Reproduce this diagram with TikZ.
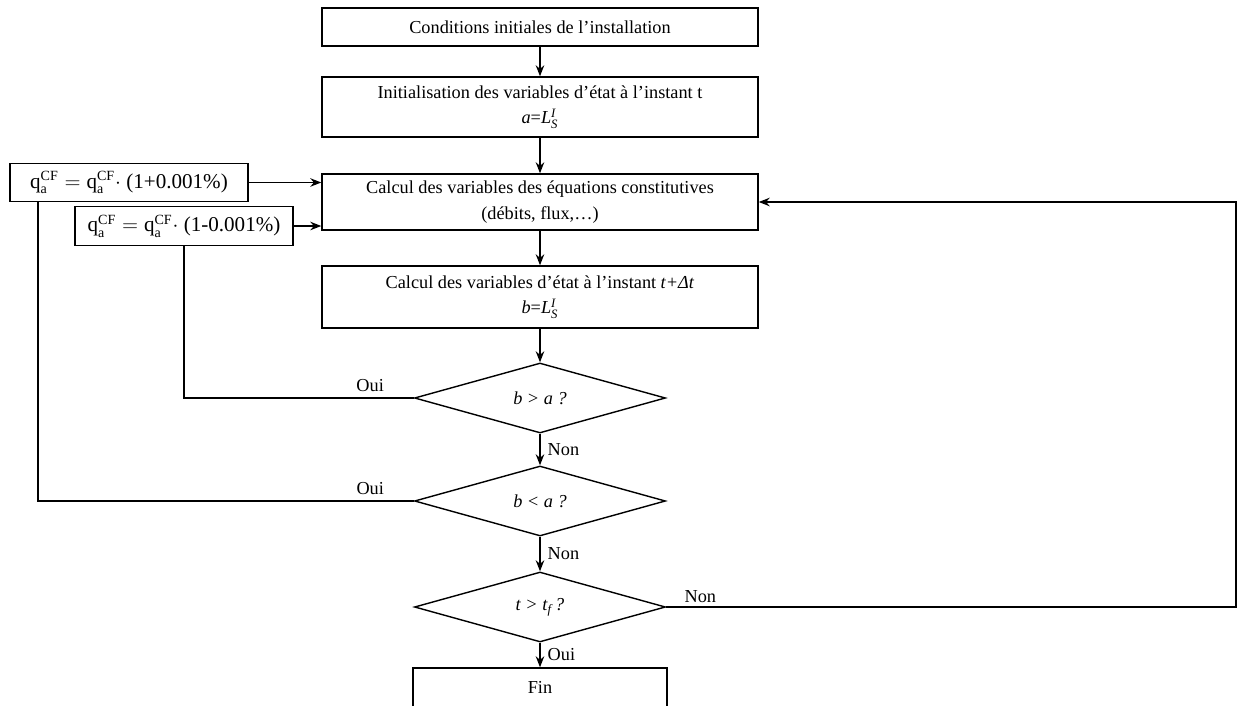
\documentclass[tikz,border=0pt]{standalone}
\usepackage{fontspec}
\usepackage{amsmath}
\setmainfont{Liberation Serif}
\usetikzlibrary{shapes.geometric,arrows.meta}

\newcommand{\qcf}{\text{q}_{\text{a}}^{\text{CF}}}
\newcommand{\Lsl}{\textit{L}$^{\textit{I}}_{\textit{S}}$}

\begin{document}
\begin{tikzpicture}[
  font=\fontsize{10.4}{14.5}\selectfont,
  box/.style={draw, line width=0.8pt, minimum width=8.72cm, align=center, inner sep=0pt},
  qbox/.style={draw, line width=0.8pt, minimum height=0.77cm, inner sep=0pt, font=\fontsize{12}{14}\selectfont},
  cond/.style={draw, line width=0.8pt, diamond, aspect=3.6, minimum width=5.02cm, minimum height=1.4cm, inner sep=0pt},
  lbl/.style={inner sep=1pt},
  arr/.style={line width=0.8pt, -{Stealth[length=2.2mm,width=1.7mm]}},
  lien/.style={line width=0.8pt}
]
  \useasboundingbox (0,0) rectangle (24.76,14.1);
  \clip (0,0) rectangle (24.76,14.1);

  % main column
  \node[box, minimum height=0.76cm] (init) at (10.8,13.56) {Conditions initiales de l’installation};
  \node[box, minimum height=1.2cm] (etat0) at (10.8,11.96) {Initialisation des variables d’état à l’instant t\\ \textit{a}=\Lsl};
  \node[box, minimum height=1.12cm] (calc) at (10.8,10.06) {Calcul des variables des équations constitutives\\(débits, flux,…)};
  \node[box, minimum height=1.24cm] (etat1) at (10.8,8.16) {Calcul des variables d’état à l’instant \textit{t+Δt}\\ \textit{b}=\Lsl};
  \node[cond] (testA) at (10.8,6.14) {\textit{b > a ?}};
  \node[cond] (testB) at (10.8,4.08) {\textit{b < a ?}};
  \node[cond] (testT) at (10.8,1.96) {\textit{t > t}$_{\textit{f}}$\,\textit{?}};
  \node[box, minimum width=5.08cm, minimum height=0.78cm] (fin) at (10.8,0.35) {Fin};

  % perturbation boxes
  \node[qbox, minimum width=4.76cm] (qplus) at (2.58,10.45) {$\qcf = \qcf\cdot$ (1+0.001\%)};
  \node[qbox, minimum width=4.36cm] (qmoins) at (3.68,9.58) {$\qcf = \qcf\cdot$ (1-0.001\%)};
  \coordinate (qplusfoot) at ([xshift=-1.82cm]qplus.south);
  \coordinate (retour) at (24.72,0);

  \draw[arr] (init) -- (etat0);
  \draw[arr] (etat0) -- (calc);
  \draw[arr] (calc) -- (etat1);
  \draw[arr] (etat1) -- (testA);
  \draw[arr] (testA) -- node[lbl, right=3pt] {Non} (testB);
  \draw[arr] (testB) -- node[lbl, right=3pt] {Non} (testT);
  \draw[arr] (testT) -- node[lbl, right=3pt] {Oui} (fin);

  \draw[arr] (qplus.east) -- (qplus.east -| calc.west);
  \draw[arr] (qmoins.east) -- (qmoins.east -| calc.west);

  \draw[lien] (testA.west) -- node[lbl, above=2pt, pos=0.19] {Oui} (testA.west -| qmoins.south) -- (qmoins.south);
  \draw[lien] (testB.west) -- node[lbl, above=2pt, pos=0.116] {Oui} (testB.west -| qplusfoot) -- (qplusfoot);
  \draw[arr] (testT.east) -- node[lbl, above=1pt, pos=0.06] {Non} (testT.east -| retour) |- (calc.east);
\end{tikzpicture}
\end{document}
